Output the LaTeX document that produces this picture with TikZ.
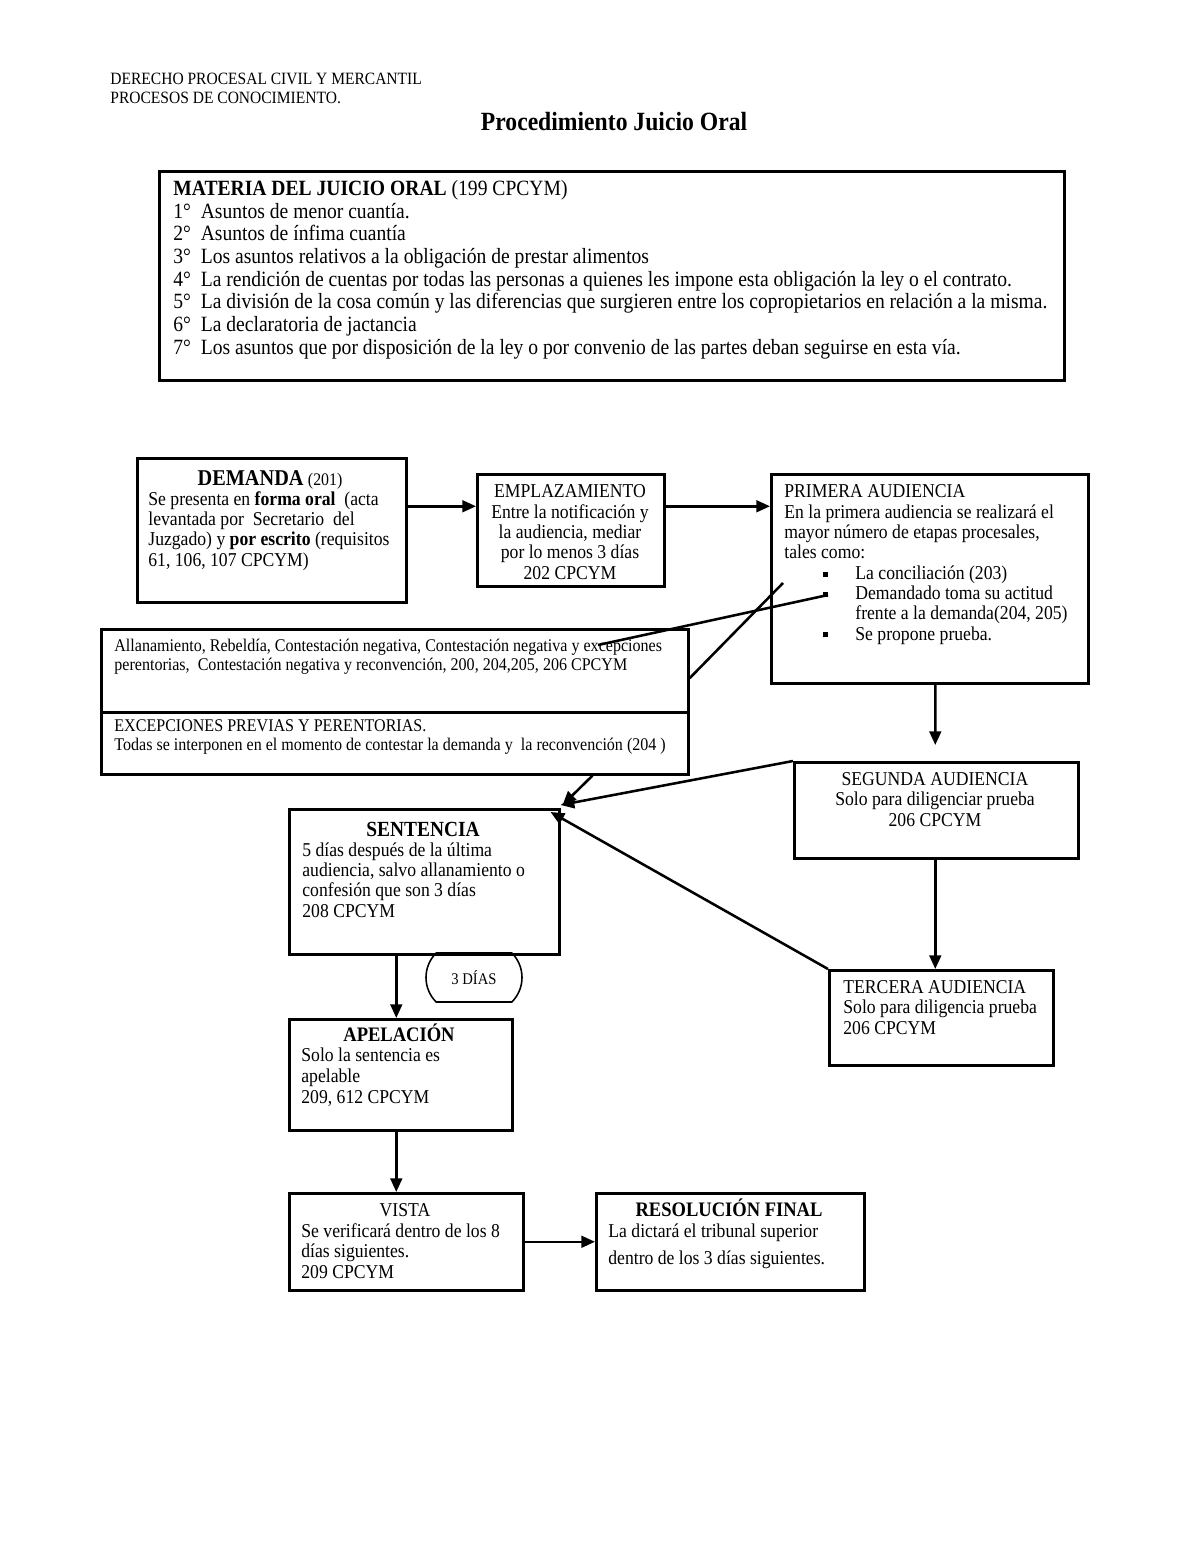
\documentclass[tikz,border=0pt]{standalone}
\usepackage{fontspec}
\setmainfont{Liberation Serif}[FakeStretch=0.9]
\usetikzlibrary{arrows.meta}
\usetikzlibrary{shapes.misc}
\newlength{\px}
\setlength{\px}{0.51pt}
\newcommand*{\itm}{\makebox[71\px][l]{\hspace*{39\px}\rule[1.3pt]{5\px}{5\px}}}
\newcommand*{\itmgap}{\hspace*{71\px}}
\tikzset{
    box/.style = {draw,line width=1.3pt,anchor=north west,inner sep=0pt},
    days/.style = {draw,line width=0.8pt,shape=rounded rectangle,rounded rectangle arc length=90,inner sep=0pt,font=\fontsize{8.3}{9}\selectfont},
    txt/.style = {inner sep=0pt,anchor=base west,align=left,font=\fontsize{10}{10.35}\selectfont},
    ctxt/.style = {txt,anchor=base,align=center},
    small/.style = {font=\fontsize{9.1}{9.2}\selectfont}
}
\tikzset{
    flow/.style = {line width=1.3pt,-{Triangle[length=7pt,width=6pt]}},
    link/.style = {line width=1.3pt}
}
\begin{document}
\begin{tikzpicture}[x=0.51pt,y=-0.51pt]
    \useasboundingbox (0,0) rectangle (1200,1553);
    % Heading (multi-line texts are placed at their last baseline)
    \node[txt,font=\fontsize{8.8}{9.7}\selectfont] (hdr) at (110,104)
        {DERECHO PROCESAL CIVIL Y MERCANTIL\\PROCESOS DE CONOCIMIENTO.};
    \node[ctxt,font=\fontsize{13.4}{15}\selectfont\bfseries] (title) at (614,131)
        {Procedimiento Juicio Oral};
    % Boxes
    \node[days,minimum width=96\px,minimum height=49\px] (dias) at (474,977.5) {3 DÍAS};
    \node[box,minimum width=905\px,minimum height=209\px] (mat) at (158,170) {};
    \node[box,minimum width=269\px,minimum height=144\px] (dem) at (136,457) {};
    \node[box,minimum width=187\px,minimum height=112\px] (emp) at (476,473) {};
    \node[box,minimum width=317\px,minimum height=209\px] (pri) at (770,473) {};
    \node[box,minimum width=587\px,minimum height=83\px] (allA) at (100,628) {};
    \node[box,minimum width=587\px,minimum height=62\px] (allB) at (100,711) {};
    \node[box,minimum width=284\px,minimum height=96\px] (seg) at (793,761) {};
    \node[box,minimum width=270\px,minimum height=145\px] (sen) at (288,808) {};
    \node[box,minimum width=224\px,minimum height=95\px] (ter) at (828,969) {};
    \node[box,minimum width=223\px,minimum height=111\px] (ape) at (288,1018) {};
    \node[box,minimum width=234\px,minimum height=97\px] (vis) at (288,1192) {};
    \node[box,minimum width=268\px,minimum height=97\px] (res) at (595,1192) {};
    % Texts
    \node[txt,font=\fontsize{11.1}{11.53}\selectfont] (matT) at (173,354)
        {\textbf{MATERIA DEL JUICIO ORAL} (199 CPCYM)\\
        1°\ \ Asuntos de menor cuantía.\\
        2°\ \ Asuntos de ínfima cuantía\\
        3°\ \ Los asuntos relativos a la obligación de prestar alimentos\\
        4°\ \ La rendición de cuentas por todas las personas a quienes les impone esta obligación la ley o el contrato.\\
        5°\ \ La división de la cosa común y las diferencias que surgieren entre los copropietarios en relación a la misma.\\
        6°\ \ La declaratoria de jactancia\\
        7°\ \ Los asuntos que por disposición de la ley o por convenio de las partes deban seguirse en esta vía.};
    \node[ctxt] (demT) at (270,485)
        {{\fontsize{11.5}{12}\selectfont\bfseries DEMANDA} {\fontsize{9}{10}\selectfont(201)}};
    \node[txt] (demB) at (148,566)
        {Se presenta en \textbf{forma oral}\ \ (acta\\levantada por\ \ Secretario\ \ del\\Juzgado) y \textbf{por escrito} (requisitos\\61, 106, 107 CPCYM)};
    \node[ctxt] (empT) at (570,579)
        {EMPLAZAMIENTO\\Entre la notificación y\\la audiencia, mediar\\por lo menos 3 días\\202 CPCYM};
    \node[txt] (priT) at (784,640)
        {PRIMERA AUDIENCIA\\En la primera audiencia se realizará el\\mayor número de etapas procesales,\\tales como:\\
        \itm La conciliación (203)\\\itm Demandado toma su actitud\\\itmgap frente a la demanda(204, 205)\\\itm Se propone prueba.};
    \node[txt,small] (allTa) at (114,670)
        {Allanamiento, Rebeldía, Contestación negativa, Contestación negativa y excepciones\\perentorias,\ \ Contestación negativa y reconvención, 200, 204,205, 206 CPCYM};
    \node[txt,small] (allTb) at (114,750)
        {EXCEPCIONES PREVIAS Y PERENTORIAS.\\Todas se interponen en el momento de contestar la demanda y\ \ la reconvención (204 )};
    \node[ctxt] (segT) at (935,826)
        {SEGUNDA AUDIENCIA\\Solo para diligenciar prueba\\206 CPCYM};
    \node[ctxt,font=\fontsize{11}{12}\selectfont\bfseries] (senT) at (423,836) {SENTENCIA};
    \node[txt] (senB) at (302,917)
        {5 días después de la última\\audiencia, salvo allanamiento o\\confesión que son 3 días\\208 CPCYM};
    \node[txt] (terT) at (843,1034)
        {TERCERA AUDIENCIA\\Solo para diligencia prueba\\206 CPCYM};
    \node[ctxt,font=\fontsize{10.5}{12}\selectfont\bfseries] (apeT) at (399,1041) {APELACIÓN};
    \node[txt,font=\fontsize{10}{10.6}\selectfont] (apeB) at (301,1103)
        {Solo la sentencia es\\apelable\\209, 612 CPCYM};
    \node[ctxt] (visT) at (405,1216) {VISTA};
    \node[txt] (visB) at (301,1278)
        {Se verificará dentro de los 8\\días siguientes.\\209 CPCYM};
    \node[ctxt,font=\fontsize{10.5}{12}\selectfont\bfseries] (resT) at (729,1216) {RESOLUCIÓN FINAL};
    \node[txt,font=\fontsize{10}{13.3}\selectfont] (resB) at (608,1264)
        {La dictará el tribunal superior\\dentro de los 3 días siguientes.};
    % Connectors
    \draw[flow] ([yshift=24\px]dem.east) -- ([yshift=24\px]emp.west);
    \draw[flow] ([yshift=24\px]emp.east) -- ([yshift=72.5\px]pri.west);
    \draw[flow] ([xshift=5.5\px]pri.south) -- ([xshift=-1\px,yshift=16\px]seg.north);
    \draw[flow] ([xshift=-1\px]seg.south) -- ([xshift=-6\px]ter.north);
    \draw[flow] (ter.north west) -- ([xshift=-10\px,yshift=-4\px]sen.north east);
    \draw[flow] (seg.north west) -- ([yshift=3\px]sen.north east);
    \draw[flow] ([xshift=-97\px]allB.south east) -- ([xshift=2\px,yshift=3\px]sen.north east);
    \draw[link] ([xshift=58\px,yshift=-122\px]pri.north west) -- ([xshift=498\px,yshift=-17\px]allA.north west);
    \draw[link] ([xshift=13\px,yshift=-110\px]pri.north west) -- ([yshift=-7.5\px]allA.east);
    \draw[flow] ([xshift=-28\px]sen.south) -- ([xshift=-4.5\px]ape.north);
    \draw[flow] ([xshift=-4.5\px]ape.south) -- ([xshift=-10\px]vis.north);
    \draw[flow] (vis.east) -- (res.west);
\end{tikzpicture}
\end{document}
